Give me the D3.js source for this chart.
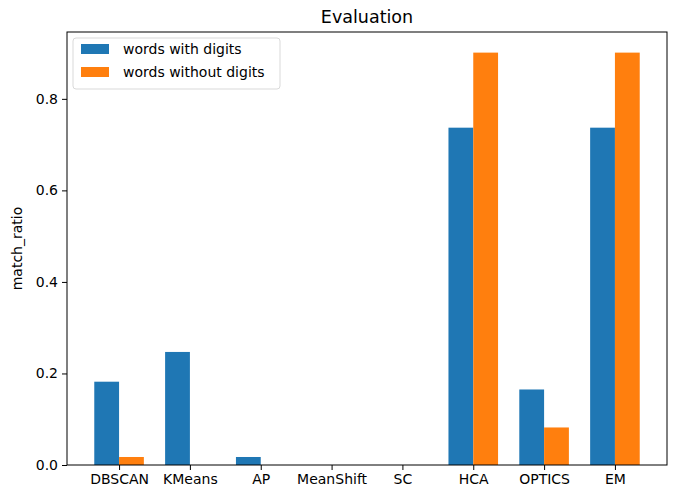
<!DOCTYPE html>
<html>
<head>
<meta charset="utf-8">
<script src="https://cdn.jsdelivr.net/npm/d3@7"></script>
<style>
  body { margin: 0; background: #fff; }
  text { font-family: "DejaVu Sans", sans-serif; }
</style>
</head>
<body>
<div id="chart"></div>
<script>
// data
const methods = ["DBSCAN", "KMeans", "AP", "MeanShift", "SC", "HCA", "OPTICS", "EM"];
const withDigits = [0.182, 0.247, 0.0175, 0, 0, 0.737, 0.165, 0.737];
const withoutDigits = [0.0175, 0, 0, 0, 0, 0.901, 0.082, 0.901];
const seriesNames = ["words with digits", "words without digits"];
const seriesColors = ["#1f77b4", "#ff7f0e"];
const yTicks = [0, 0.2, 0.4, 0.6, 0.8];

const W = 678, H = 494;
const margin = {top: 32, right: 11, bottom: 29, left: 67};
const width = W - margin.left - margin.right;
const height = H - margin.top - margin.bottom;

const svg = d3.select("#chart").append("svg")
    .attr("width", W)
    .attr("height", H);

const g = svg.append("g")
    .attr("transform", `translate(${margin.left},${margin.top})`);

// matplotlib-like: bars of width 0.35 around integer positions, 5% margins
const barW = 0.35;
const lo = -barW, hi = methods.length - 1 + barW;
const pad = (hi - lo) * 0.05;
const x = d3.scaleLinear().domain([lo - pad, hi + pad]).range([0, width]);

const yMax = d3.max(withDigits.concat(withoutDigits)) * 1.05;
const y = d3.scaleLinear().domain([0, yMax]).range([height, 0]);

const series = [withDigits, withoutDigits];

series.forEach((vals, si) => {
    g.selectAll(".bar" + si)
        .data(vals)
        .join("rect")
        .attr("class", "bar" + si)
        .attr("x", (d, i) => x(i + (si === 0 ? -barW : 0)))
        .attr("width", x(barW) - x(0))
        .attr("y", d => y(d))
        .attr("height", d => height - y(d))
        .attr("fill", seriesColors[si]);
});

// axes
const xAxis = d3.axisBottom(x)
    .tickValues(d3.range(methods.length))
    .tickFormat(i => methods[i])
    .tickSizeOuter(0)
    .tickSize(5)
    .tickPadding(4);

const yAxis = d3.axisLeft(y)
    .tickValues(yTicks)
    .tickFormat(d3.format(".1f"))
    .tickSizeOuter(0)
    .tickSize(5)
    .tickPadding(4);

const gx = g.append("g")
    .attr("transform", `translate(0,${height})`)
    .call(xAxis);
const gy = g.append("g").call(yAxis);

[gx, gy].forEach(a => {
    a.select(".domain").remove();
    a.selectAll("line").attr("stroke", "#000").attr("stroke-width", 1);
    a.selectAll("text")
        .attr("fill", "#000")
        .style("font-size", "14px")
        .style("font-family", "DejaVu Sans, sans-serif");
});

// frame
g.append("rect")
    .attr("width", width)
    .attr("height", height)
    .attr("fill", "none")
    .attr("stroke", "#000")
    .attr("stroke-width", 1);

// title and label
svg.append("text")
    .attr("x", margin.left + width / 2)
    .attr("y", 23)
    .attr("text-anchor", "middle")
    .style("font-size", "17.5px")
    .text("Evaluation");

svg.append("text")
    .attr("transform", `translate(22,${margin.top + height / 2}) rotate(-90)`)
    .attr("text-anchor", "middle")
    .style("font-size", "14px")
    .text("match_ratio");

// legend
const legend = svg.append("g").attr("transform", "translate(73,38)");
legend.append("rect")
    .attr("width", 207)
    .attr("height", 51)
    .attr("rx", 3)
    .attr("fill", "#fff")
    .attr("fill-opacity", 0.8)
    .attr("stroke", "#d9d9d9");

seriesNames.forEach((name, i) => {
    legend.append("rect")
        .attr("x", 8)
        .attr("y", 6 + i * 23)
        .attr("width", 28)
        .attr("height", 10)
        .attr("fill", seriesColors[i]);
    legend.append("text")
        .attr("x", 50)
        .attr("y", 16 + i * 23)
        .style("font-size", "14px")
        .text(name);
});
</script>
</body>
</html>
